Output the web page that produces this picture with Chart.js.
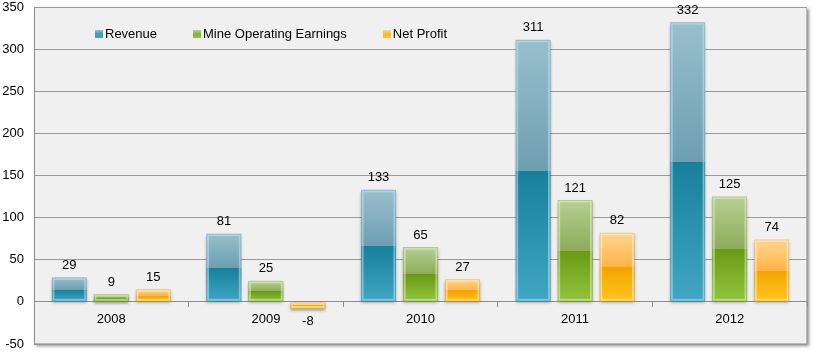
<!DOCTYPE html>
<html>
<head>
<meta charset="utf-8">
<script src="https://cdn.jsdelivr.net/npm/chart.js@4/dist/chart.umd.min.js"></script>
<style>
html,body{margin:0;padding:0;background:#fff;}
canvas{display:block;}
</style>
</head>
<body>
<canvas id="c" width="816" height="352"></canvas>
<script>
const categories = ['2008', '2009', '2010', '2011', '2012'];
const seriesNames = ['Revenue', 'Mine Operating Earnings', 'Net Profit'];
const revenue = [29, 81, 133, 311, 332];
const mineEarnings = [9, 25, 65, 121, 125];
const netProfit = [15, -8, 27, 82, 74];
const yTicks = { min: -50, max: 350, step: 50 };

const palettes = [
  { t0: '#99bfcc', t1: '#6d9fb1', b0: '#17809b', b1: '#40a6c4', edge: 'rgba(190,230,245,0.55)', key: '#3d9cb8' },
  { t0: '#b6cf93', t1: '#8dac5a', b0: '#6a9a14', b1: '#92c53e', edge: 'rgba(225,245,190,0.55)', key: '#84b337' },
  { t0: '#ffd592', t1: '#ffb446', b0: '#f4a300', b1: '#ffc61c', edge: 'rgba(255,240,190,0.6)', key: '#fbb526' }
];

const FONT = '"Liberation Sans", Arial, sans-serif';

function grad(ctx, p) {
  const chart = ctx.chart;
  const ys = chart.scales.y;
  if (!ys || ctx.type !== 'data') return p.b0;
  const v = ctx.raw;
  const a = ys.getPixelForValue(v), b = ys.getPixelForValue(0);
  const top = Math.min(a, b), bot = Math.max(a, b);
  if (!isFinite(top) || bot - top < 1) return p.b0;
  const g = chart.ctx.createLinearGradient(0, top, 0, bot);
  g.addColorStop(0, p.t0);
  g.addColorStop(0.499, p.t1);
  g.addColorStop(0.5, p.b0);
  g.addColorStop(1, p.b1);
  return g;
}

const plotBg = {
  id: 'plotBg',
  beforeDraw(chart) {
    const { ctx, chartArea: a } = chart;
    ctx.save();
    ctx.shadowColor = 'rgba(0,0,0,0.45)';
    ctx.shadowBlur = 3;
    ctx.shadowOffsetX = 2;
    ctx.shadowOffsetY = 2;
    ctx.fillStyle = '#f0f0f0';
    ctx.fillRect(a.left, a.top, a.right - a.left, a.bottom - a.top);
    ctx.restore();
    ctx.save();
    ctx.strokeStyle = '#b8b8b8';
    ctx.lineWidth = 1;
    ctx.strokeRect(Math.round(a.left) + 0.5, Math.round(a.top) + 0.5, Math.round(a.right - a.left) - 1, Math.round(a.bottom - a.top) - 1);
    ctx.restore();
  }
};

const barFx = {
  id: 'barFx',
  beforeDatasetDraw(chart) {
    const ctx = chart.ctx;
    ctx.save();
    ctx.shadowColor = 'rgba(0,0,0,0.35)';
    ctx.shadowBlur = 3;
    ctx.shadowOffsetX = 0;
    ctx.shadowOffsetY = 2;
  },
  afterDatasetDraw(chart, args) {
    const ctx = chart.ctx;
    ctx.restore();
    const p = palettes[args.index];
    const meta = args.meta;
    ctx.save();
    meta.data.forEach(el => {
      const { x, y, base, width } = el.getProps(['x', 'y', 'base', 'width'], true);
      const top = Math.min(y, base), bot = Math.max(y, base);
      const l = x - width / 2;
      if (bot - top < 2) return;
      ctx.strokeStyle = p.edge;
      ctx.lineWidth = 2;
      ctx.strokeRect(l + 1.5, top + 1.5, width - 3, bot - top - 3);
      ctx.strokeStyle = 'rgba(0,0,0,0.08)';
      ctx.lineWidth = 1;
      ctx.strokeRect(l + 0.5, top + 0.5, width - 1, bot - top - 1);
    });
    ctx.restore();
  },
  afterDatasetsDraw(chart) {
    const ctx = chart.ctx;
    ctx.save();
    ctx.font = '13px ' + FONT;
    ctx.fillStyle = '#000';
    ctx.textAlign = 'center';
    ctx.textBaseline = 'middle';
    chart.data.datasets.forEach((ds, di) => {
      const meta = chart.getDatasetMeta(di);
      meta.data.forEach((el, i) => {
        const v = ds.data[i];
        const { x, y } = el.getProps(['x', 'y'], true);
        const ty = v >= 0 ? y - 12 : y + 13;
        ctx.fillText(String(v), x, ty);
      });
    });
    // legend
    let lx = 95;
    const ly = 34;
    ctx.textAlign = 'left';
    seriesNames.forEach((name, i) => {
      const p = palettes[i];
      const g = ctx.createLinearGradient(0, ly - 4, 0, ly + 4);
      g.addColorStop(0, p.t0);
      g.addColorStop(0.5, p.key);
      g.addColorStop(1, p.b1);
      ctx.fillStyle = g;
      ctx.fillRect(lx, ly - 4, 8, 8);
      ctx.fillStyle = '#000';
      ctx.fillText(name, lx + 10, ly);
      lx += 10 + ctx.measureText(name).width + 36;
    });
    ctx.restore();
  }
};

const datasets = [revenue, mineEarnings, netProfit].map((arr, i) => ({
  label: seriesNames[i],
  data: arr,
  backgroundColor: ctx => grad(ctx, palettes[i]),
  borderWidth: 0,
  categoryPercentage: 0.815,
  barPercentage: 0.83
}));

new Chart(document.getElementById('c'), {
  type: 'bar',
  data: { labels: categories, datasets },
  options: {
    responsive: false,
    animation: false,
    devicePixelRatio: 1,
    layout: { padding: { top: 7, right: 9, bottom: 8, left: 0 } },
    plugins: { legend: { display: false }, tooltip: { enabled: false } },
    scales: {
      x: {
        type: 'category',
        position: { y: 0 },
        offset: true,
        afterFit: s => { s.height = 0; s.paddingLeft = 0; s.paddingRight = 0; },
        grid: { display: true, drawOnChartArea: false, drawTicks: true, tickLength: 5, color: '#8c8c8c', offset: true },
        border: { display: true, color: '#8c8c8c' },
        ticks: { padding: 5, color: '#000', font: { family: FONT, size: 13 } }
      },
      y: {
        min: yTicks.min,
        max: yTicks.max,
        afterFit: s => { s.width = 34; s.paddingTop = 0; s.paddingBottom = 0; },
        grid: { color: '#999', drawTicks: false, lineWidth: 1 },
        border: { display: true, color: '#8c8c8c' },
        ticks: { stepSize: yTicks.step, padding: 10, color: '#000', font: { family: FONT, size: 13 } }
      }
    }
  },
  plugins: [plotBg, barFx]
});
</script>
</body>
</html>
